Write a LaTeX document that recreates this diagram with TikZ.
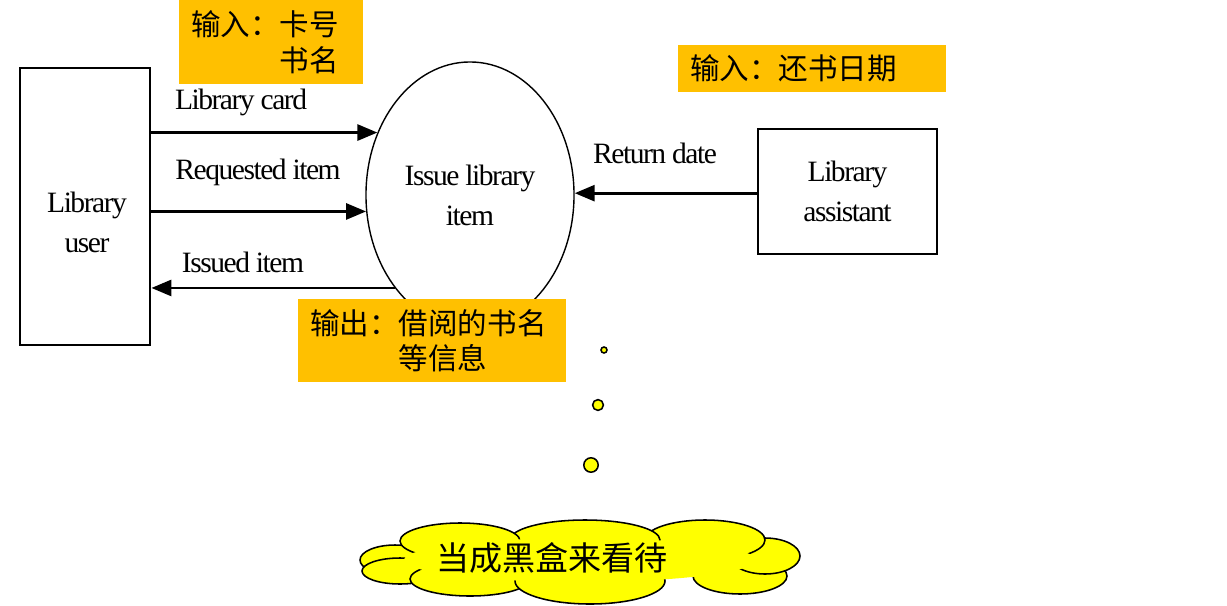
\documentclass[tikz,border=0pt]{standalone}
\usepackage{fontspec}
\setmainfont{Liberation Serif}[LetterSpace=-5]
\newfontfamily\cjk{Noto Sans CJK SC}
\usetikzlibrary{shapes.geometric,arrows.meta}

\definecolor{noteorange}{RGB}{255,192,0}
\definecolor{cloudyellow}{RGB}{255,255,0}

\tikzset{
    entity/.style={draw, line width=2pt},
    word/.style={font=\fontsize{21}{28.5}\selectfont, align=center, inner sep=0pt},
    flow/.style={line width=2pt, -{Triangle[length=0.5cm,width=0.4cm]}},
    note/.style={fill=noteorange, anchor=north west, inner xsep=0.3cm, align=left,
        font=\cjk\fontsize{21}{25}\selectfont},
    bubble/.style={circle, draw, line width=1.1pt, fill=cloudyellow, inner sep=0pt},
    puff/.style={draw, line width=1.1pt, fill=cloudyellow}
}

\begin{document}
\begin{tikzpicture}[x=0.025cm, y=-0.025cm]
    % Page
    \useasboundingbox[fill=white] (0,0) rectangle (1227,605);
    % Library user
    \node[entity, minimum width=3.25cm, minimum height=6.925cm] (user) at (85,206.5) {};
    \node[word] (usertext) at (87,222) {Library\\user};
    % Process
    \node[ellipse, draw, line width=1pt, minimum width=5.2cm, minimum height=6.65cm, word] (proc) at (470,195) {Issue library\\item};
    % Library assistant
    \node[entity, minimum width=4.475cm, minimum height=3.125cm, word] (asst) at (847.5,191.5) {Library\\assistant};
    % Flows
    \draw[flow] (user.east |- proc.146) -- (proc.146);
    \draw[flow] (user.east |- proc.189) -- (proc.189);
    \draw[flow] (proc.231.5) -- (user.east |- proc.231.5);
    \draw[flow] (asst.west |- proc.1) -- (proc.1);
    \node[word] (cardlbl) at (241,102) {Library card};
    \node[word] (reqlbl) at (258,172) {Requested item};
    \node[word] (isslbl) at (243,262) {Issued item};
    \node[word] (retlbl) at (655,153) {Return date};
    % Notes
    \node[note, text width=4cm, minimum height=2.1cm] (incard) at (179,0) {输入：卡号\\\phantom{输入：}书名};
    \node[note, text width=6.1cm, minimum height=1.175cm] (indate) at (678,45) {输入：还书日期};
    \node[note, text width=6.1cm, minimum height=2.075cm] (outbook) at (298,299) {输出：借阅的书名\\\phantom{输出：}等信息};
    % Thought bubbles
    \node[bubble, minimum size=0.15cm] (b1) at (604,350) {};
    \node[bubble, minimum size=0.27cm] (b2) at (598,405) {};
    \node[bubble, minimum size=0.36cm] (b3) at (591,465) {};
    % Cloud
    \foreach \cx/\cy/\rx/\ry in {395/560/35/15, 400/571/38/13, 470/579/60/17, 590/581/75/23,
        740/576/47/18, 765/556/35/18, 705/540/60/20, 585/540/75/20, 460/541/60/18}
        \draw[puff] (\cx,\cy) ellipse [x radius=\rx*0.025cm, y radius=\ry*0.025cm];
    \fill[cloudyellow] (580,560) ellipse [x radius=4.4cm, y radius=0.55cm];
    \node[font=\cjk\fontsize{23.5}{28}\selectfont, inner sep=0pt] (boxtext) at (552,558) {当成黑盒来看待};
\end{tikzpicture}
\end{document}
